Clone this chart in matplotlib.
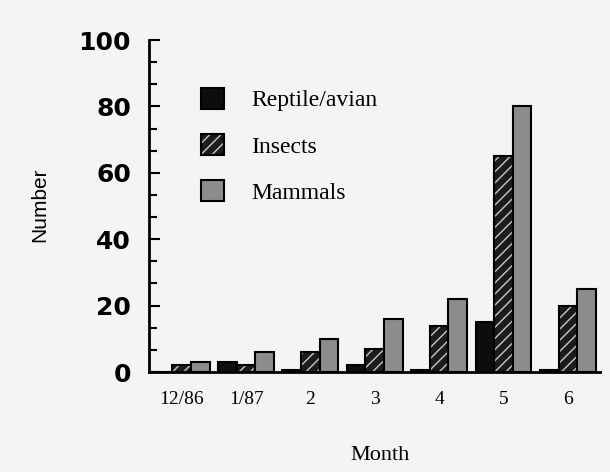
import matplotlib.pyplot as plt
import numpy as np
from matplotlib.patches import Patch
from matplotlib.ticker import MultipleLocator

months = ['12/86', '1/87', '2', '3', '4', '5', '6']
reptile_avian = [0, 3, 0.5, 2, 0.5, 15, 0.5]
insects = [2, 2, 6, 7, 14, 65, 20]
mammals = [3, 6, 10, 16, 22, 80, 25]

paper = '#f4f4f2'
gray = '#8c8c8c'

fig = plt.figure(figsize=(6.10, 4.72), dpi=100, facecolor=paper)
ax = fig.add_axes([149 / 610, 1 - 372 / 472, 451 / 610, 332 / 472])
ax.set_facecolor(paper)

x = np.arange(len(months))
w = 0.29

ax.bar(x - w, reptile_avian, w, color='#0d0d0d', edgecolor='black', linewidth=1.5)
# insects: dark bars with light diagonal hatch, outline drawn on top
ax.bar(x, insects, w, color='#1c1c1c', edgecolor='#c8c8c8', hatch='///', linewidth=0)
ax.bar(x, insects, w, color='none', edgecolor='black', linewidth=1.5)
ax.bar(x + w, mammals, w, color=gray, edgecolor='black', linewidth=1.5)

ax.set_xlim(-0.51, 6.5)
ax.set_ylim(0, 100)
ax.set_xticks(x)
ax.set_xticklabels(months, family='Liberation Serif', fontsize=14)
ax.tick_params(axis='x', length=0, pad=14)

ax.yaxis.set_major_locator(MultipleLocator(20))
ax.yaxis.set_minor_locator(MultipleLocator(20 / 3))
ax.tick_params(axis='y', which='major', direction='in', length=8, width=1.5, pad=13)
ax.tick_params(axis='y', which='minor', direction='in', length=6, width=1.5)
for lab in ax.get_yticklabels():
    lab.set_fontsize(18)
    lab.set_fontweight('bold')
    lab.set_family('DejaVu Sans')

for s in ['top', 'right']:
    ax.spines[s].set_visible(False)
for s in ['left', 'bottom']:
    ax.spines[s].set_linewidth(2)

fig.text(40 / 610, 1 - 205 / 472, 'Number', rotation=90, ha='center', va='center',
         family='Liberation Sans', fontsize=15)
fig.text(380 / 610, 1 - 455 / 472, 'Month', ha='center', va='center',
         family='Liberation Serif', fontsize=16)

handles = [
    Patch(facecolor='#0d0d0d', edgecolor='black', linewidth=1.5),
    (Patch(facecolor='#1c1c1c', edgecolor='#c8c8c8', hatch='///', linewidth=0),
     Patch(facecolor='none', edgecolor='black', linewidth=1.5)),
    Patch(facecolor=gray, edgecolor='black', linewidth=1.5),
]
ax.legend(handles, ['Reptile/avian', 'Insects', 'Mammals'], loc='upper left',
          bbox_to_anchor=(189 / 610, 1 - 76 / 472), bbox_transform=fig.transFigure,
          frameon=False, borderpad=0, handlelength=1.0, handleheight=1.0,
          handletextpad=1.15, labelspacing=0.95,
          prop={'family': 'Liberation Serif', 'size': 17})

fig.savefig('out.png', dpi=100, facecolor=paper)
